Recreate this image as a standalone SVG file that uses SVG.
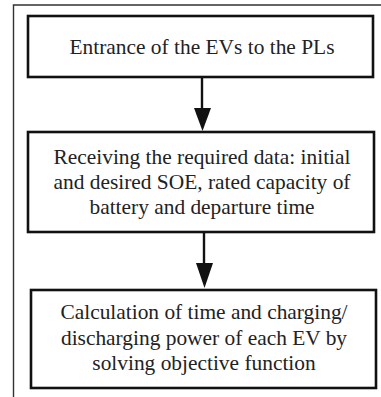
<svg xmlns="http://www.w3.org/2000/svg" width="381" height="397" viewBox="0 0 381 397">
<style>
.box{fill:#fff;stroke:#111;stroke-width:2.6}
.frame{fill:none;stroke:#333;stroke-width:1.4}
.t{font-family:'Liberation Serif',serif;font-size:21.4px;fill:#222;text-anchor:middle}
.conn{stroke:#111;stroke-width:2.4;fill:none}
</style>
<rect width="381" height="397" fill="#fff"/>
<path class="frame" d="M13.5,397 V5 H381"/>
<g id="n1">
<rect class="box" x="28" y="16" width="345" height="61"/>
<text class="t" x="202" y="54">Entrance of the EVs to the PLs</text>
</g>
<g id="n2">
<rect class="box" x="28" y="132" width="346" height="100"/>
<text class="t" x="202" y="164">Receiving the required data: initial</text>
<text class="t" x="202" y="189">and desired SOE, rated capacity of</text>
<text class="t" x="202" y="214">battery and departure time</text>
</g>
<g id="n3">
<rect class="box" x="31" y="290" width="345" height="98"/>
<text class="t" x="204" y="319">Calculation of time and charging/</text>
<text class="t" x="204" y="345">discharging power of each EV by</text>
<text class="t" x="204" y="370">solving objective function</text>
</g>
<g id="connectors">
<line class="conn" x1="202" y1="78" x2="202" y2="110"/>
<path d="M194,108 L211,108 L202.5,131 Z" fill="#111"/>
<line class="conn" x1="204" y1="233" x2="204" y2="265"/>
<path d="M196,263 L213,263 L204.5,288 Z" fill="#111"/>
</g>
</svg>
